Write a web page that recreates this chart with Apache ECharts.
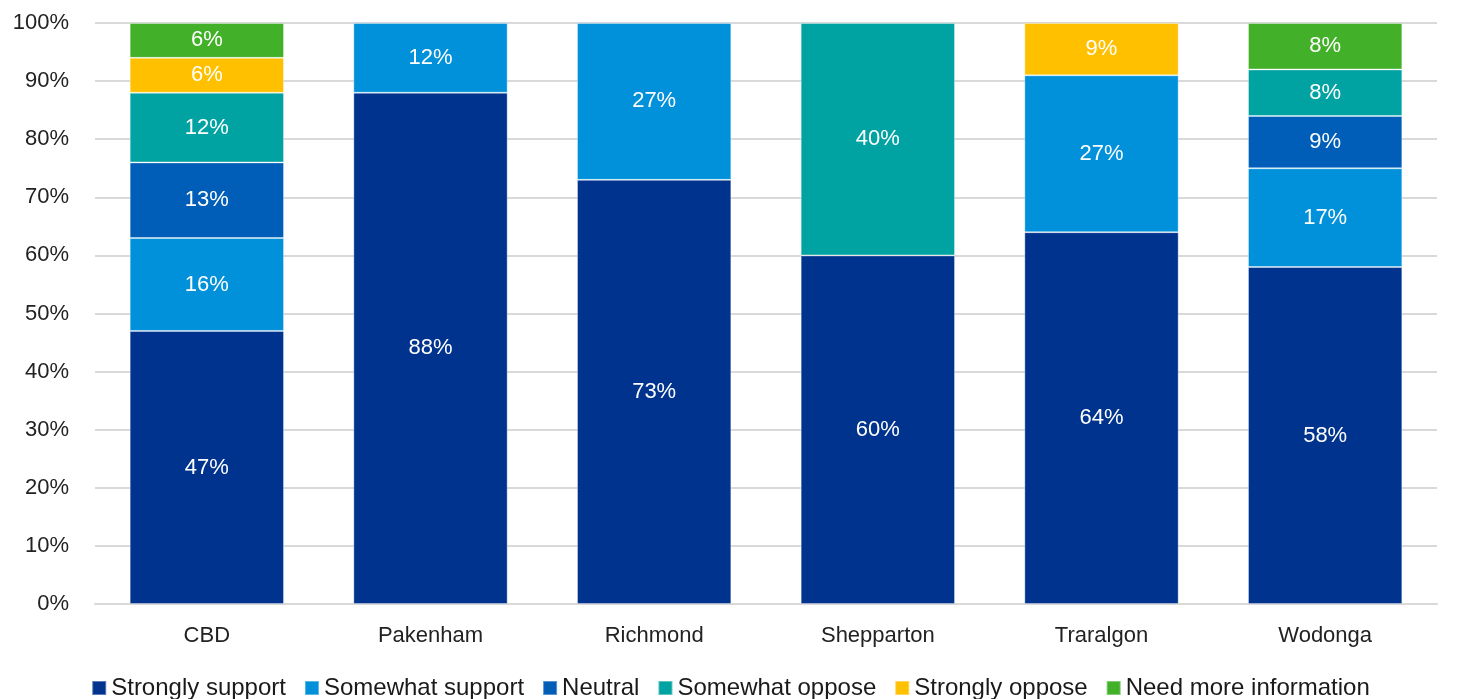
<!DOCTYPE html>
<html>
<head>
<meta charset="utf-8">
<script src="https://cdn.jsdelivr.net/npm/echarts@6/dist/echarts.min.js"></script>
<style>
  html, body { margin: 0; padding: 0; background: #fff; }
  #chart { width: 1461px; height: 699px; }
</style>
</head>
<body>
<div id="chart"></div>
<script>
// Survey locations
const categories = ['CBD', 'Pakenham', 'Richmond', 'Shepparton', 'Traralgon', 'Wodonga'];

// Share of responses per location (%), stacked bottom to top
const stronglySupport = [47, 88, 73, 60, 64, 58];
const somewhatSupport = [16, 12, 27, 0, 27, 17];
const neutral         = [13, 0, 0, 0, 0, 9];
const somewhatOppose  = [12, 0, 0, 40, 0, 8];
const stronglyOppose  = [6, 0, 0, 0, 9, 0];
const needMoreInfo    = [6, 0, 0, 0, 0, 8];

const seriesNames = ['Strongly support', 'Somewhat support', 'Neutral', 'Somewhat oppose', 'Strongly oppose', 'Need more information'];
const seriesData = [stronglySupport, somewhatSupport, neutral, somewhatOppose, stronglyOppose, needMoreInfo];
const colors = ['#00338D', '#0091DA', '#005EB8', '#00A3A1', '#FFC000', '#43B02A'];

const font = '"Liberation Sans", Arial, sans-serif';

const chart = echarts.init(document.getElementById('chart'), null, { renderer: 'canvas' });

chart.setOption({
  animation: false,
  color: colors,
  grid: { left: 95, right: 24, top: 23, bottom: 95, containLabel: false },
  legend: {
    bottom: -6,
    left: 'center',
    itemWidth: 14,
    itemHeight: 14,
    itemGap: 18,
    icon: 'rect',
    textStyle: { fontFamily: font, fontSize: 24, color: '#1a1a1a', padding: [0, 0, 0, 0] },
    data: seriesNames
  },
  xAxis: {
    type: 'category',
    data: categories,
    axisTick: { show: false },
    axisLine: { lineStyle: { color: '#d9d9d9', width: 2 } },
    axisLabel: { fontFamily: font, fontSize: 22, color: '#222', margin: 21 }
  },
  yAxis: {
    type: 'value',
    min: 0,
    max: 100,
    interval: 10,
    axisLine: { show: false },
    axisTick: { show: false },
    splitLine: { lineStyle: { color: '#d9d9d9', width: 2 } },
    axisLabel: { fontFamily: font, fontSize: 22, color: '#222', margin: 26, formatter: '{value}%' }
  },
  series: seriesNames.map((name, i) => ({
    name: name,
    type: 'bar',
    stack: 'total',
    barWidth: '69%',
    data: seriesData[i].map(v => (v === 0 ? null : v)),
    itemStyle: { borderColor: 'rgba(255,255,255,0.35)', borderWidth: 1 },
    label: {
      show: true,
      position: 'inside',
      formatter: p => p.value + '%',
      color: '#fff',
      fontFamily: font,
      fontSize: 22
    }
  }))
});
</script>
</body>
</html>
